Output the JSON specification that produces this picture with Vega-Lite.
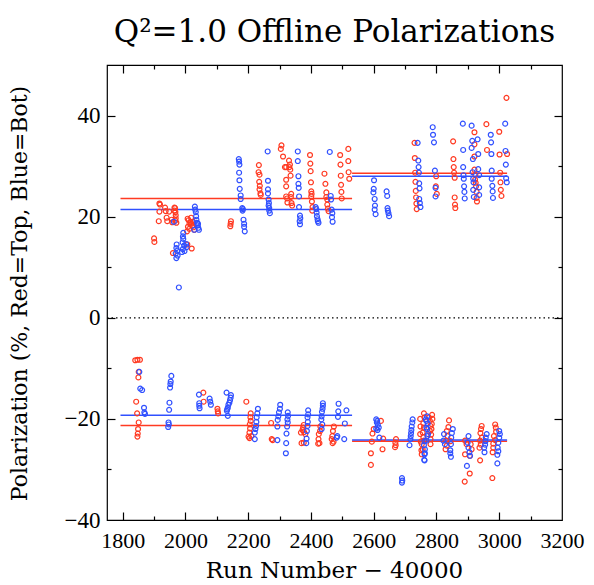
{
  "$schema": "https://vega.github.io/schema/vega-lite/v6.json",
  "autosize": {"type": "none"},
  "padding": {"left": 107, "top": 65, "right": 32, "bottom": 65},
  "width": 455,
  "height": 455,
  "title": {"text": "Q²=1.0 Offline Polarizations", "font": "DejaVu Serif", "fontSize": 31, "fontWeight": "normal", "anchor": "middle", "baseline": "alphabetic", "offset": -9, "color": "#000"},
  "config": {
    "view": {"stroke": "#000", "strokeWidth": 1.2},
    "axis": {"tickColor": "#000", "tickWidth": 1.2, "labelColor": "#000", "titleColor": "#000", "grid": false, "domain": false, "labelOverlap": false, "labelFlush": false}
  },
  "datasets": {
    "pts": [
{"run":1900,"pol":15.7,"side":"Top"},{"run":1901,"pol":15.0,"side":"Top"},{"run":1917,"pol":22.6,"side":"Top"},{"run":1919,"pol":22.4,"side":"Top"},{"run":1917,"pol":21.0,"side":"Top"},{"run":1915,"pol":19.1,"side":"Top"},{"run":1935,"pol":21.8,"side":"Top"},{"run":1937,"pol":21.1,"side":"Top"},{"run":1940,"pol":19.8,"side":"Top"},{"run":1942,"pol":19.1,"side":"Top"},{"run":1948,"pol":21.0,"side":"Top"},{"run":1956,"pol":19.4,"side":"Top"},{"run":1958,"pol":18.9,"side":"Top"},{"run":1965,"pol":21.8,"side":"Top"},{"run":1967,"pol":21.7,"side":"Top"},{"run":1965,"pol":21.2,"side":"Top"},{"run":1968,"pol":20.9,"side":"Top"},{"run":1969,"pol":20.3,"side":"Top"},{"run":1969,"pol":19.7,"side":"Top"},{"run":1968,"pol":19.2,"side":"Top"},{"run":1971,"pol":18.8,"side":"Top"},{"run":1960,"pol":12.8,"side":"Top"},
{"run":2007,"pol":19.6,"side":"Top"},{"run":2010,"pol":19.3,"side":"Top"},{"run":2008,"pol":18.0,"side":"Top"},{"run":2013,"pol":18.7,"side":"Top"},{"run":2012,"pol":17.6,"side":"Top"},{"run":2016,"pol":19.0,"side":"Top"},{"run":2019,"pol":18.6,"side":"Top"},{"run":2022,"pol":18.2,"side":"Top"},{"run":2025,"pol":17.9,"side":"Top"},{"run":2028,"pol":17.4,"side":"Top"},{"run":2005,"pol":17.1,"side":"Top"},{"run":2018,"pol":19.8,"side":"Top"},{"run":2024,"pol":19.0,"side":"Top"},{"run":2006,"pol":14.5,"side":"Top"},{"run":2020,"pol":13.7,"side":"Top"},
{"run":2145,"pol":19.1,"side":"Top"},{"run":2144,"pol":18.6,"side":"Top"},{"run":2143,"pol":18.1,"side":"Top"},
{"run":2234,"pol":30.2,"side":"Top"},{"run":2233,"pol":28.8,"side":"Top"},{"run":2236,"pol":28.3,"side":"Top"},{"run":2235,"pol":26.9,"side":"Top"},{"run":2237,"pol":26.1,"side":"Top"},{"run":2236,"pol":25.4,"side":"Top"},{"run":2239,"pol":24.6,"side":"Top"},{"run":2240,"pol":24.3,"side":"Top"},
{"run":2306,"pol":34.1,"side":"Top"},{"run":2304,"pol":33.4,"side":"Top"},{"run":2311,"pol":31.9,"side":"Top"},{"run":2317,"pol":29.8,"side":"Top"},{"run":2321,"pol":29.8,"side":"Top"},{"run":2321,"pol":27.3,"side":"Top"},{"run":2321,"pol":26.0,"side":"Top"},{"run":2321,"pol":24.0,"side":"Top"},{"run":2324,"pol":23.6,"side":"Top"},{"run":2325,"pol":22.8,"side":"Top"},
{"run":2330,"pol":31.1,"side":"Top"},{"run":2333,"pol":30.3,"side":"Top"},{"run":2331,"pol":29.8,"side":"Top"},{"run":2334,"pol":29.3,"side":"Top"},{"run":2335,"pol":28.1,"side":"Top"},{"run":2337,"pol":24.5,"side":"Top"},{"run":2336,"pol":23.9,"side":"Top"},{"run":2338,"pol":22.7,"side":"Top"},{"run":2340,"pol":22.2,"side":"Top"},
{"run":2397,"pol":32.2,"side":"Top"},{"run":2398,"pol":30.5,"side":"Top"},{"run":2399,"pol":29.0,"side":"Top"},{"run":2400,"pol":26.8,"side":"Top"},{"run":2401,"pol":25.0,"side":"Top"},{"run":2402,"pol":24.5,"side":"Top"},{"run":2401,"pol":24.0,"side":"Top"},{"run":2403,"pol":23.0,"side":"Top"},{"run":2405,"pol":21.9,"side":"Top"},{"run":2404,"pol":21.2,"side":"Top"},
{"run":2443,"pol":28.5,"side":"Top"},{"run":2446,"pol":26.5,"side":"Top"},{"run":2449,"pol":24.8,"side":"Top"},{"run":2449,"pol":23.9,"side":"Top"},{"run":2452,"pol":23.4,"side":"Top"},{"run":2452,"pol":22.4,"side":"Top"},{"run":2454,"pol":21.6,"side":"Top"},{"run":2456,"pol":21.1,"side":"Top"},
{"run":2493,"pol":32.2,"side":"Top"},{"run":2494,"pol":30.3,"side":"Top"},{"run":2495,"pol":28.1,"side":"Top"},{"run":2496,"pol":26.3,"side":"Top"},{"run":2497,"pol":24.9,"side":"Top"},{"run":2498,"pol":23.6,"side":"Top"},
{"run":2519,"pol":33.4,"side":"Top"},{"run":2519,"pol":31.0,"side":"Top"},{"run":2520,"pol":28.8,"side":"Top"},{"run":2522,"pol":27.5,"side":"Top"},
{"run":2730,"pol":34.6,"side":"Top"},{"run":2731,"pol":31.6,"side":"Top"},{"run":2732,"pol":28.7,"side":"Top"},{"run":2733,"pol":26.9,"side":"Top"},{"run":2734,"pol":25.1,"side":"Top"},{"run":2735,"pol":23.8,"side":"Top"},{"run":2736,"pol":22.6,"side":"Top"},{"run":2737,"pol":21.5,"side":"Top"},
{"run":2799,"pol":28.0,"side":"Top"},{"run":2798,"pol":26.0,"side":"Top"},{"run":2801,"pol":24.5,"side":"Top"},
{"run":2853,"pol":34.9,"side":"Top"},{"run":2854,"pol":31.4,"side":"Top"},{"run":2855,"pol":29.8,"side":"Top"},{"run":2856,"pol":28.7,"side":"Top"},{"run":2858,"pol":27.7,"side":"Top"},{"run":2858,"pol":23.8,"side":"Top"},{"run":2859,"pol":22.4,"side":"Top"},{"run":2860,"pol":21.7,"side":"Top"},
{"run":2921,"pol":36.7,"side":"Top"},{"run":2921,"pol":34.3,"side":"Top"},{"run":2921,"pol":31.9,"side":"Top"},{"run":2921,"pol":29.3,"side":"Top"},{"run":2924,"pol":28.3,"side":"Top"},{"run":2923,"pol":27.3,"side":"Top"},{"run":2925,"pol":26.7,"side":"Top"},{"run":2926,"pol":26.0,"side":"Top"},{"run":2928,"pol":24.9,"side":"Top"},{"run":2928,"pol":23.7,"side":"Top"},{"run":2929,"pol":23.0,"side":"Top"},
{"run":2959,"pol":38.3,"side":"Top"},{"run":2961,"pol":33.2,"side":"Top"},
{"run":3000,"pol":36.8,"side":"Top"},{"run":3001,"pol":32.3,"side":"Top"},{"run":3003,"pol":28.7,"side":"Top"},{"run":3004,"pol":26.8,"side":"Top"},{"run":3005,"pol":25.3,"side":"Top"},{"run":3007,"pol":24.1,"side":"Top"},
{"run":3023,"pol":43.5,"side":"Top"},{"run":3025,"pol":32.4,"side":"Top"},
{"run":1979,"pol":6.0,"side":"Bot"},{"run":1963,"pol":19.0,"side":"Bot"},
{"run":1993,"pol":16.8,"side":"Bot"},{"run":1992,"pol":16.1,"side":"Bot"},{"run":1993,"pol":15.6,"side":"Bot"},{"run":1991,"pol":14.9,"side":"Bot"},{"run":1996,"pol":14.3,"side":"Bot"},{"run":1992,"pol":13.6,"side":"Bot"},{"run":1997,"pol":13.2,"side":"Bot"},{"run":1989,"pol":13.0,"side":"Bot"},
{"run":1972,"pol":14.5,"side":"Bot"},{"run":1971,"pol":13.8,"side":"Bot"},{"run":1974,"pol":13.3,"side":"Bot"},{"run":1969,"pol":12.7,"side":"Bot"},{"run":1975,"pol":12.3,"side":"Bot"},{"run":1971,"pol":11.8,"side":"Bot"},{"run":2002,"pol":14.6,"side":"Bot"},{"run":2004,"pol":14.0,"side":"Bot"},
{"run":2030,"pol":22.0,"side":"Bot"},{"run":2031,"pol":21.4,"side":"Bot"},{"run":2033,"pol":20.9,"side":"Bot"},{"run":2034,"pol":20.1,"side":"Bot"},{"run":2035,"pol":19.4,"side":"Bot"},{"run":2037,"pol":18.8,"side":"Bot"},{"run":2039,"pol":18.3,"side":"Bot"},{"run":2041,"pol":17.8,"side":"Bot"},{"run":2043,"pol":17.4,"side":"Bot"},{"run":2028,"pol":17.4,"side":"Bot"},{"run":2040,"pol":18.6,"side":"Bot"},
{"run":2170,"pol":31.4,"side":"Bot"},{"run":2171,"pol":30.9,"side":"Bot"},{"run":2172,"pol":30.3,"side":"Bot"},{"run":2171,"pol":28.7,"side":"Bot"},{"run":2172,"pol":27.2,"side":"Bot"},{"run":2173,"pol":25.5,"side":"Bot"},{"run":2176,"pol":24.2,"side":"Bot"},{"run":2176,"pol":23.5,"side":"Bot"},{"run":2181,"pol":21.7,"side":"Bot"},{"run":2183,"pol":21.5,"side":"Bot"},{"run":2182,"pol":21.2,"side":"Bot"},{"run":2185,"pol":19.4,"side":"Bot"},{"run":2187,"pol":18.6,"side":"Bot"},{"run":2187,"pol":18.0,"side":"Bot"},{"run":2189,"pol":17.1,"side":"Bot"},
{"run":2262,"pol":32.9,"side":"Bot"},{"run":2263,"pol":27.1,"side":"Bot"},{"run":2263,"pol":25.4,"side":"Bot"},{"run":2263,"pol":24.6,"side":"Bot"},{"run":2265,"pol":23.4,"side":"Bot"},{"run":2266,"pol":22.7,"side":"Bot"},{"run":2265,"pol":22.2,"side":"Bot"},{"run":2267,"pol":21.7,"side":"Bot"},{"run":2267,"pol":21.2,"side":"Bot"},{"run":2269,"pol":20.7,"side":"Bot"},
{"run":2358,"pol":32.9,"side":"Bot"},{"run":2358,"pol":31.0,"side":"Bot"},{"run":2360,"pol":28.0,"side":"Bot"},{"run":2360,"pol":26.5,"side":"Bot"},{"run":2361,"pol":25.7,"side":"Bot"},{"run":2362,"pol":24.0,"side":"Bot"},{"run":2362,"pol":21.9,"side":"Bot"},{"run":2365,"pol":20.2,"side":"Bot"},{"run":2366,"pol":19.7,"side":"Bot"},{"run":2364,"pol":19.1,"side":"Bot"},{"run":2365,"pol":18.5,"side":"Bot"},
{"run":2415,"pol":21.9,"side":"Bot"},{"run":2417,"pol":21.5,"side":"Bot"},{"run":2418,"pol":20.8,"side":"Bot"},{"run":2419,"pol":20.1,"side":"Bot"},{"run":2421,"pol":19.5,"side":"Bot"},{"run":2422,"pol":19.1,"side":"Bot"},{"run":2424,"pol":18.8,"side":"Bot"},
{"run":2460,"pol":32.8,"side":"Bot"},{"run":2463,"pol":24.1,"side":"Bot"},{"run":2464,"pol":23.4,"side":"Bot"},{"run":2466,"pol":21.4,"side":"Bot"},{"run":2468,"pol":20.7,"side":"Bot"},{"run":2467,"pol":19.9,"side":"Bot"},{"run":2469,"pol":19.0,"side":"Bot"},
{"run":2601,"pol":27.2,"side":"Bot"},{"run":2600,"pol":25.5,"side":"Bot"},{"run":2599,"pol":24.8,"side":"Bot"},{"run":2603,"pol":23.5,"side":"Bot"},{"run":2604,"pol":22.2,"side":"Bot"},{"run":2603,"pol":21.4,"side":"Bot"},{"run":2606,"pol":20.5,"side":"Bot"},
{"run":2641,"pol":25.0,"side":"Bot"},{"run":2643,"pol":24.1,"side":"Bot"},{"run":2644,"pol":21.7,"side":"Bot"},{"run":2645,"pol":21.2,"side":"Bot"},{"run":2647,"pol":20.7,"side":"Bot"},{"run":2649,"pol":20.1,"side":"Bot"},
{"run":2740,"pol":34.6,"side":"Bot"},{"run":2742,"pol":31.1,"side":"Bot"},{"run":2743,"pol":29.8,"side":"Bot"},{"run":2744,"pol":28.7,"side":"Bot"},{"run":2745,"pol":26.6,"side":"Bot"},{"run":2746,"pol":25.6,"side":"Bot"},{"run":2745,"pol":23.5,"side":"Bot"},{"run":2747,"pol":22.7,"side":"Bot"},{"run":2749,"pol":21.9,"side":"Bot"},
{"run":2788,"pol":37.7,"side":"Bot"},{"run":2789,"pol":36.2,"side":"Bot"},{"run":2792,"pol":34.7,"side":"Bot"},{"run":2795,"pol":29.1,"side":"Bot"},{"run":2797,"pol":25.7,"side":"Bot"},{"run":2797,"pol":24.0,"side":"Bot"},
{"run":2884,"pol":38.4,"side":"Bot"},{"run":2885,"pol":33.2,"side":"Bot"},{"run":2885,"pol":29.8,"side":"Bot"},{"run":2886,"pol":28.2,"side":"Bot"},{"run":2887,"pol":27.5,"side":"Bot"},{"run":2888,"pol":26.0,"side":"Bot"},{"run":2889,"pol":24.9,"side":"Bot"},{"run":2890,"pol":23.6,"side":"Bot"},
{"run":2912,"pol":38.0,"side":"Bot"},{"run":2914,"pol":35.0,"side":"Bot"},{"run":2912,"pol":33.6,"side":"Bot"},{"run":2916,"pol":31.4,"side":"Bot"},{"run":2915,"pol":28.8,"side":"Bot"},{"run":2917,"pol":27.5,"side":"Bot"},{"run":2918,"pol":26.8,"side":"Bot"},{"run":2917,"pol":25.3,"side":"Bot"},{"run":2919,"pol":23.9,"side":"Bot"},
{"run":2931,"pol":35.3,"side":"Bot"},{"run":2933,"pol":32.4,"side":"Bot"},{"run":2933,"pol":29.4,"side":"Bot"},{"run":2936,"pol":28.2,"side":"Bot"},{"run":2936,"pol":25.8,"side":"Bot"},{"run":2936,"pol":24.3,"side":"Bot"},
{"run":2973,"pol":36.2,"side":"Bot"},{"run":2974,"pol":34.7,"side":"Bot"},{"run":2975,"pol":32.4,"side":"Bot"},{"run":2976,"pol":29.1,"side":"Bot"},{"run":2976,"pol":27.5,"side":"Bot"},{"run":2978,"pol":26.1,"side":"Bot"},{"run":2979,"pol":25.0,"side":"Bot"},{"run":2980,"pol":23.7,"side":"Bot"},
{"run":3019,"pol":38.4,"side":"Bot"},{"run":3020,"pol":33.0,"side":"Bot"},{"run":3021,"pol":30.3,"side":"Bot"},{"run":3022,"pol":27.6,"side":"Bot"},{"run":3024,"pol":26.8,"side":"Bot"},
{"run":1840,"pol":-8.4,"side":"Top"},{"run":1847,"pol":-8.3,"side":"Top"},{"run":1855,"pol":-8.3,"side":"Top"},{"run":1851,"pol":-10.7,"side":"Top"},{"run":1850,"pol":-11.8,"side":"Top"},{"run":1843,"pol":-16.6,"side":"Top"},{"run":1846,"pol":-18.9,"side":"Top"},{"run":1851,"pol":-20.7,"side":"Top"},{"run":1849,"pol":-22.0,"side":"Top"},{"run":1848,"pol":-22.9,"side":"Top"},{"run":1847,"pol":-23.5,"side":"Top"},
{"run":2057,"pol":-14.8,"side":"Top"},{"run":2058,"pol":-16.6,"side":"Top"},{"run":2102,"pol":-18.0,"side":"Top"},{"run":2103,"pol":-18.5,"side":"Top"},{"run":2104,"pol":-18.9,"side":"Top"},{"run":2194,"pol":-16.6,"side":"Top"},
{"run":2208,"pol":-18.9,"side":"Top"},{"run":2207,"pol":-19.7,"side":"Top"},{"run":2208,"pol":-20.4,"side":"Top"},{"run":2205,"pol":-21.1,"side":"Top"},{"run":2206,"pol":-21.9,"side":"Top"},{"run":2204,"pol":-22.7,"side":"Top"},{"run":2201,"pol":-23.5,"side":"Top"},{"run":2204,"pol":-23.8,"side":"Top"},{"run":2210,"pol":-23.4,"side":"Top"},
{"run":2273,"pol":-20.8,"side":"Top"},{"run":2275,"pol":-24.0,"side":"Top"},{"run":2278,"pol":-24.2,"side":"Top"},
{"run":2377,"pol":-21.2,"side":"Top"},{"run":2375,"pol":-21.7,"side":"Top"},{"run":2373,"pol":-22.2,"side":"Top"},{"run":2368,"pol":-22.7,"side":"Top"},{"run":2378,"pol":-22.6,"side":"Top"},{"run":2382,"pol":-23.0,"side":"Top"},{"run":2370,"pol":-24.8,"side":"Top"},{"run":2377,"pol":-24.7,"side":"Top"},
{"run":2430,"pol":-21.5,"side":"Top"},{"run":2429,"pol":-22.4,"side":"Top"},{"run":2425,"pol":-23.0,"side":"Top"},{"run":2424,"pol":-24.0,"side":"Top"},{"run":2423,"pol":-24.9,"side":"Top"},{"run":2427,"pol":-24.8,"side":"Top"},
{"run":2473,"pol":-21.5,"side":"Top"},{"run":2470,"pol":-22.4,"side":"Top"},{"run":2468,"pol":-23.4,"side":"Top"},{"run":2466,"pol":-24.0,"side":"Top"},{"run":2472,"pol":-24.5,"side":"Top"},{"run":2469,"pol":-24.8,"side":"Top"},
{"run":2591,"pol":-29.1,"side":"Top"},{"run":2591,"pol":-26.8,"side":"Top"},{"run":2594,"pol":-24.5,"side":"Top"},{"run":2596,"pol":-22.9,"side":"Top"},{"run":2600,"pol":-22.0,"side":"Top"},{"run":2623,"pol":-20.4,"side":"Top"},{"run":2628,"pol":-26.0,"side":"Top"},{"run":2630,"pol":-23.9,"side":"Top"},
{"run":2671,"pol":-24.0,"side":"Top"},{"run":2669,"pol":-24.7,"side":"Top"},{"run":2670,"pol":-25.2,"side":"Top"},{"run":2668,"pol":-25.6,"side":"Top"},
{"run":2760,"pol":-18.9,"side":"Top"},{"run":2762,"pol":-19.7,"side":"Top"},{"run":2758,"pol":-20.9,"side":"Top"},{"run":2760,"pol":-21.7,"side":"Top"},{"run":2756,"pol":-22.7,"side":"Top"},{"run":2758,"pol":-23.6,"side":"Top"},{"run":2760,"pol":-24.3,"side":"Top"},{"run":2753,"pol":-25.0,"side":"Top"},{"run":2756,"pol":-26.0,"side":"Top"},{"run":2752,"pol":-26.2,"side":"Top"},{"run":2753,"pol":-27.0,"side":"Top"},
{"run":2748,"pol":-20.0,"side":"Top"},{"run":2749,"pol":-21.5,"side":"Top"},{"run":2748,"pol":-23.0,"side":"Top"},{"run":2750,"pol":-24.5,"side":"Top"},
{"run":2776,"pol":-19.7,"side":"Top"},{"run":2779,"pol":-20.4,"side":"Top"},{"run":2781,"pol":-21.4,"side":"Top"},{"run":2779,"pol":-22.4,"side":"Top"},{"run":2783,"pol":-23.1,"side":"Top"},{"run":2781,"pol":-24.0,"side":"Top"},{"run":2781,"pol":-25.0,"side":"Top"},
{"run":2786,"pol":-19.2,"side":"Top"},{"run":2787,"pol":-20.0,"side":"Top"},{"run":2785,"pol":-21.0,"side":"Top"},{"run":2784,"pol":-22.0,"side":"Top"},
{"run":2840,"pol":-20.3,"side":"Top"},{"run":2838,"pol":-21.6,"side":"Top"},{"run":2833,"pol":-22.4,"side":"Top"},{"run":2835,"pol":-23.4,"side":"Top"},{"run":2831,"pol":-24.3,"side":"Top"},{"run":2833,"pol":-25.3,"side":"Top"},{"run":2829,"pol":-26.0,"side":"Top"},{"run":2845,"pol":-24.4,"side":"Top"},
{"run":2891,"pol":-24.3,"side":"Top"},{"run":2896,"pol":-25.0,"side":"Top"},{"run":2909,"pol":-25.0,"side":"Top"},{"run":2912,"pol":-26.0,"side":"Top"},{"run":2891,"pol":-27.0,"side":"Top"},{"run":2906,"pol":-27.3,"side":"Top"},{"run":2906,"pol":-30.8,"side":"Top"},{"run":2890,"pol":-32.4,"side":"Top"},
{"run":2944,"pol":-21.4,"side":"Top"},{"run":2942,"pol":-22.0,"side":"Top"},{"run":2940,"pol":-22.8,"side":"Top"},{"run":2945,"pol":-23.7,"side":"Top"},{"run":2939,"pol":-24.3,"side":"Top"},{"run":2941,"pol":-25.1,"side":"Top"},{"run":2937,"pol":-25.7,"side":"Top"},{"run":2939,"pol":-28.2,"side":"Top"},
{"run":2987,"pol":-21.1,"side":"Top"},{"run":2989,"pol":-21.7,"side":"Top"},{"run":2990,"pol":-22.5,"side":"Top"},{"run":2983,"pol":-23.4,"side":"Top"},{"run":2987,"pol":-24.2,"side":"Top"},{"run":2981,"pol":-24.9,"side":"Top"},{"run":2981,"pol":-25.7,"side":"Top"},{"run":2979,"pol":-26.6,"side":"Top"},{"run":2978,"pol":-31.7,"side":"Top"},
{"run":1853,"pol":-10.7,"side":"Bot"},{"run":1856,"pol":-14.0,"side":"Bot"},{"run":1862,"pol":-14.3,"side":"Bot"},{"run":1868,"pol":-17.8,"side":"Bot"},{"run":1869,"pol":-18.7,"side":"Bot"},{"run":1871,"pol":-19.0,"side":"Bot"},
{"run":1955,"pol":-11.5,"side":"Bot"},{"run":1953,"pol":-12.6,"side":"Bot"},{"run":1952,"pol":-13.1,"side":"Bot"},{"run":1951,"pol":-13.8,"side":"Bot"},{"run":1949,"pol":-16.8,"side":"Bot"},{"run":1948,"pol":-18.2,"side":"Bot"},{"run":1946,"pol":-20.7,"side":"Bot"},{"run":1947,"pol":-21.1,"side":"Bot"},{"run":1945,"pol":-21.6,"side":"Bot"},
{"run":2043,"pol":-15.2,"side":"Bot"},{"run":2044,"pol":-16.9,"side":"Bot"},{"run":2044,"pol":-17.4,"side":"Bot"},{"run":2045,"pol":-17.9,"side":"Bot"},{"run":2077,"pol":-16.0,"side":"Bot"},{"run":2079,"pol":-16.6,"side":"Bot"},{"run":2081,"pol":-17.2,"side":"Bot"},
{"run":2131,"pol":-14.8,"side":"Bot"},{"run":2144,"pol":-15.8,"side":"Bot"},{"run":2142,"pol":-16.3,"side":"Bot"},{"run":2140,"pol":-16.8,"side":"Bot"},{"run":2137,"pol":-17.2,"side":"Bot"},{"run":2135,"pol":-17.8,"side":"Bot"},{"run":2133,"pol":-18.1,"side":"Bot"},{"run":2132,"pol":-18.4,"side":"Bot"},{"run":2135,"pol":-19.4,"side":"Bot"},{"run":2145,"pol":-15.3,"side":"Bot"},
{"run":2231,"pol":-18.0,"side":"Bot"},{"run":2229,"pol":-18.9,"side":"Bot"},{"run":2227,"pol":-19.7,"side":"Bot"},{"run":2226,"pol":-20.6,"side":"Bot"},{"run":2225,"pol":-21.4,"side":"Bot"},{"run":2223,"pol":-22.0,"side":"Bot"},{"run":2221,"pol":-22.7,"side":"Bot"},{"run":2221,"pol":-24.0,"side":"Bot"},
{"run":2293,"pol":-24.2,"side":"Bot"},{"run":2302,"pol":-17.2,"side":"Bot"},{"run":2301,"pol":-18.0,"side":"Bot"},{"run":2298,"pol":-18.7,"side":"Bot"},{"run":2296,"pol":-19.5,"side":"Bot"},{"run":2294,"pol":-20.2,"side":"Bot"},{"run":2293,"pol":-21.5,"side":"Bot"},
{"run":2326,"pol":-18.7,"side":"Bot"},{"run":2327,"pol":-19.4,"side":"Bot"},{"run":2325,"pol":-20.1,"side":"Bot"},{"run":2326,"pol":-20.7,"side":"Bot"},{"run":2324,"pol":-21.5,"side":"Bot"},{"run":2322,"pol":-22.9,"side":"Bot"},{"run":2321,"pol":-24.8,"side":"Bot"},{"run":2320,"pol":-26.8,"side":"Bot"},
{"run":2391,"pol":-18.3,"side":"Bot"},{"run":2391,"pol":-19.1,"side":"Bot"},{"run":2389,"pol":-19.7,"side":"Bot"},{"run":2390,"pol":-20.6,"side":"Bot"},{"run":2389,"pol":-21.4,"side":"Bot"},{"run":2387,"pol":-22.4,"side":"Bot"},{"run":2386,"pol":-23.9,"side":"Bot"},{"run":2385,"pol":-24.8,"side":"Bot"},
{"run":2438,"pol":-16.9,"side":"Bot"},{"run":2438,"pol":-17.4,"side":"Bot"},{"run":2437,"pol":-18.0,"side":"Bot"},{"run":2435,"pol":-18.6,"side":"Bot"},{"run":2434,"pol":-19.5,"side":"Bot"},{"run":2433,"pol":-20.1,"side":"Bot"},{"run":2436,"pol":-21.1,"side":"Bot"},{"run":2434,"pol":-22.0,"side":"Bot"},
{"run":2488,"pol":-17.0,"side":"Bot"},{"run":2487,"pol":-18.5,"side":"Bot"},{"run":2486,"pol":-19.6,"side":"Bot"},{"run":2484,"pol":-23.4,"side":"Bot"},{"run":2482,"pol":-23.7,"side":"Bot"},{"run":2508,"pol":-20.9,"side":"Bot"},{"run":2513,"pol":-18.3,"side":"Bot"},{"run":2506,"pol":-24.0,"side":"Bot"},
{"run":2608,"pol":-20.1,"side":"Bot"},{"run":2611,"pol":-20.4,"side":"Bot"},{"run":2610,"pol":-20.7,"side":"Bot"},{"run":2613,"pol":-21.2,"side":"Bot"},{"run":2616,"pol":-21.7,"side":"Bot"},{"run":2608,"pol":-21.9,"side":"Bot"},{"run":2612,"pol":-22.2,"side":"Bot"},{"run":2618,"pol":-23.7,"side":"Bot"},
{"run":2690,"pol":-31.7,"side":"Bot"},{"run":2691,"pol":-32.2,"side":"Bot"},{"run":2690,"pol":-32.6,"side":"Bot"},
{"run":2724,"pol":-20.1,"side":"Bot"},{"run":2723,"pol":-20.7,"side":"Bot"},{"run":2721,"pol":-21.5,"side":"Bot"},{"run":2720,"pol":-22.2,"side":"Bot"},{"run":2719,"pol":-22.8,"side":"Bot"},{"run":2718,"pol":-23.4,"side":"Bot"},{"run":2717,"pol":-24.0,"side":"Bot"},{"run":2714,"pol":-25.2,"side":"Bot"},
{"run":2770,"pol":-19.5,"side":"Bot"},{"run":2768,"pol":-20.4,"side":"Bot"},{"run":2772,"pol":-20.9,"side":"Bot"},{"run":2770,"pol":-22.0,"side":"Bot"},{"run":2773,"pol":-23.0,"side":"Bot"},{"run":2768,"pol":-24.3,"side":"Bot"},{"run":2763,"pol":-26.8,"side":"Bot"},{"run":2762,"pol":-28.2,"side":"Bot"},
{"run":2762,"pol":-24.4,"side":"Bot"},{"run":2760,"pol":-25.2,"side":"Bot"},{"run":2763,"pol":-26.0,"side":"Bot"},{"run":2762,"pol":-27.0,"side":"Bot"},{"run":2761,"pol":-28.1,"side":"Bot"},{"run":2766,"pol":-20.1,"side":"Bot"},{"run":2768,"pol":-21.7,"side":"Bot"},{"run":2771,"pol":-23.4,"side":"Bot"},
{"run":2852,"pol":-22.0,"side":"Bot"},{"run":2849,"pol":-22.8,"side":"Bot"},{"run":2847,"pol":-23.7,"side":"Bot"},{"run":2846,"pol":-25.0,"side":"Bot"},{"run":2844,"pol":-26.2,"side":"Bot"},{"run":2846,"pol":-27.5,"side":"Bot"},{"run":2824,"pol":-23.0,"side":"Bot"},{"run":2822,"pol":-24.3,"side":"Bot"},{"run":2827,"pol":-25.0,"side":"Bot"},{"run":2844,"pol":-26.8,"side":"Bot"},
{"run":2902,"pol":-23.4,"side":"Bot"},{"run":2899,"pol":-24.7,"side":"Bot"},{"run":2902,"pol":-25.7,"side":"Bot"},{"run":2905,"pol":-26.6,"side":"Bot"},{"run":2907,"pol":-27.3,"side":"Bot"},{"run":2897,"pol":-29.3,"side":"Bot"},
{"run":2960,"pol":-23.0,"side":"Bot"},{"run":2957,"pol":-23.7,"side":"Bot"},{"run":2956,"pol":-24.4,"side":"Bot"},{"run":2955,"pol":-25.1,"side":"Bot"},{"run":2952,"pol":-25.7,"side":"Bot"},{"run":2953,"pol":-26.6,"side":"Bot"},
{"run":3000,"pol":-22.4,"side":"Bot"},{"run":3002,"pol":-23.0,"side":"Bot"},{"run":3000,"pol":-23.7,"side":"Bot"},{"run":2997,"pol":-24.7,"side":"Bot"},{"run":2995,"pol":-25.7,"side":"Bot"},{"run":2997,"pol":-26.4,"side":"Bot"},{"run":2994,"pol":-27.1,"side":"Bot"},{"run":2994,"pol":-28.8,"side":"Bot"}
    ],
    "means": [
      {"start": 1793, "end": 2531, "pol": 23.6, "side": "Top"},
      {"start": 1793, "end": 2531, "pol": 21.4, "side": "Bot"},
      {"start": 2531, "end": 3025, "pol": 28.6, "side": "Top"},
      {"start": 2531, "end": 3025, "pol": 28.0, "side": "Bot"},
      {"start": 1793, "end": 2531, "pol": -21.3, "side": "Top"},
      {"start": 1793, "end": 2531, "pol": -19.3, "side": "Bot"},
      {"start": 2531, "end": 3025, "pol": -24.4, "side": "Top"},
      {"start": 2531, "end": 3025, "pol": -24.2, "side": "Bot"}
    ],
    "zero": [{"start": 1750, "end": 3200, "pol": 0}]
  },
  "resolve": {"scale": {"x": "shared", "y": "shared", "color": "shared"}, "axis": {"x": "independent", "y": "independent"}},
  "layer": [
    {
      "data": {"name": "zero"},
      "mark": {"type": "rule", "color": "#000", "strokeWidth": 1.2, "strokeDash": [1.5, 3]},
      "encoding": {
        "x": {"field": "start", "type": "quantitative", "scale": {"domain": [1750, 3200], "nice": false, "zero": false},
              "axis": {"orient": "bottom", "values": [1900, 2100, 2300, 2500, 2700, 2900, 3100], "labels": false, "tickSize": -4, "title": null}},
        "x2": {"field": "end"},
        "y": {"field": "pol", "type": "quantitative", "scale": {"domain": [-40, 50], "nice": false, "zero": false},
              "axis": {"orient": "left", "values": [-30, -10, 10, 30], "labels": false, "tickSize": -4, "title": null}}
      }
    },
    {
      "data": {"name": "means"},
      "mark": {"type": "rule", "strokeWidth": 1.5},
      "encoding": {
        "x": {"field": "start", "type": "quantitative", "scale": {"domain": [1750, 3200], "nice": false, "zero": false},
              "axis": {"orient": "top", "values": [1800, 2000, 2200, 2400, 2600, 2800, 3000], "labels": false, "tickSize": -8, "title": null}},
        "x2": {"field": "end"},
        "y": {"field": "pol", "type": "quantitative", "scale": {"domain": [-40, 50], "nice": false, "zero": false},
              "axis": {"orient": "right", "values": [-20, 0, 20, 40], "labels": false, "tickSize": -8, "title": null}},
        "color": {"field": "side", "type": "nominal", "scale": {"domain": ["Top", "Bot"], "range": ["#ff3a22", "#3050ff"]}, "legend": null}
      }
    },
    {
      "data": {"name": "pts"},
      "mark": {"type": "point", "filled": false, "size": 24, "strokeWidth": 1.2, "opacity": 1},
      "encoding": {
        "x": {"field": "run", "type": "quantitative", "scale": {"domain": [1750, 3200], "nice": false, "zero": false},
              "axis": {"orient": "bottom", "values": [1800, 2000, 2200, 2400, 2600, 2800, 3000, 3200], "ticks": false, "format": "d",
                       "labelFont": "Liberation Serif", "labelFontSize": 22, "labelBaseline": "alphabetic", "labelPadding": 27,
                       "title": "Run Number  −  40000", "titleFont": "DejaVu Serif", "titleFontSize": 23, "titleFontWeight": "normal",
                       "titleX": 227, "titleY": 57, "titleBaseline": "alphabetic", "titleAlign": "center"}},
        "y": {"field": "pol", "type": "quantitative", "scale": {"domain": [-40, 50], "nice": false, "zero": false},
              "axis": {"orient": "left", "values": [-40, -20, 0, 20, 40], "ticks": false,
                       "labelFont": "Liberation Serif", "labelFontSize": 23, "labelPadding": 7,
                       "title": "Polarization (%,  Red=Top,  Blue=Bot)", "titleFont": "DejaVu Serif", "titleFontSize": 22, "titleFontWeight": "normal",
                       "titleX": -81, "titleY": 228, "titleAngle": -90, "titleBaseline": "alphabetic", "titleAlign": "center"}},
        "color": {"field": "side", "type": "nominal", "scale": {"domain": ["Top", "Bot"], "range": ["#ff3a22", "#3050ff"]}, "legend": null}
      }
    },
    {
      "data": {"name": "zero"},
      "mark": {"type": "rule", "opacity": 0},
      "encoding": {
        "x": {"field": "start", "type": "quantitative", "scale": {"domain": [1750, 3200], "nice": false, "zero": false},
              "axis": {"orient": "bottom", "values": [1800, 2000, 2200, 2400, 2600, 2800, 3000], "labels": false, "tickSize": -8, "title": null}},
        "x2": {"field": "end"},
        "y": {"field": "pol", "type": "quantitative", "scale": {"domain": [-40, 50], "nice": false, "zero": false},
              "axis": {"orient": "left", "values": [-20, 0, 20, 40], "labels": false, "tickSize": -8, "title": null}}
      }
    },
    {
      "data": {"name": "zero"},
      "mark": {"type": "rule", "opacity": 0},
      "encoding": {
        "x": {"field": "start", "type": "quantitative", "scale": {"domain": [1750, 3200], "nice": false, "zero": false},
              "axis": {"orient": "top", "values": [1900, 2100, 2300, 2500, 2700, 2900, 3100], "labels": false, "tickSize": -4, "title": null}},
        "x2": {"field": "end"},
        "y": {"field": "pol", "type": "quantitative", "scale": {"domain": [-40, 50], "nice": false, "zero": false},
              "axis": {"orient": "right", "values": [-30, -10, 10, 30], "labels": false, "tickSize": -4, "title": null}}
      }
    }
  ]
}
